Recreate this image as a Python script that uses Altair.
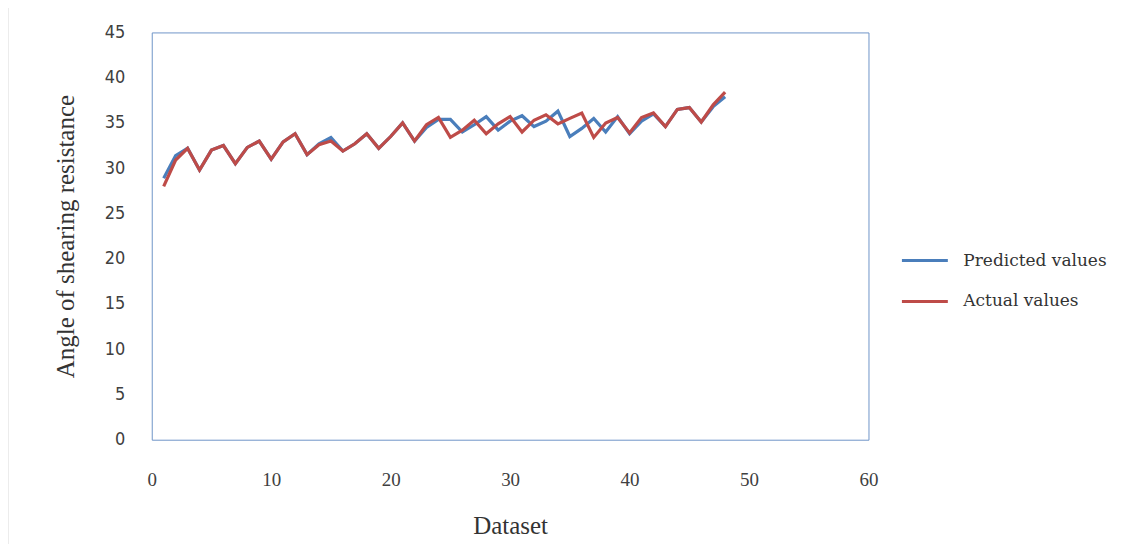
import altair as alt
import pandas as pd

dataset = list(range(1, 49))
predicted = [28.9, 31.4, 32.2, 29.8, 32.0, 32.5, 30.5, 32.3, 33.0, 31.0,
             32.9, 33.8, 31.5, 32.7, 33.4, 31.9, 32.7, 33.8, 32.2, 33.5,
             35.0, 33.0, 34.5, 35.4, 35.4, 34.0, 34.8, 35.7, 34.2, 35.2,
             35.8, 34.6, 35.2, 36.3, 33.5, 34.4, 35.5, 34.0, 35.7, 33.8,
             35.2, 36.0, 34.6, 36.5, 36.7, 35.1, 36.8, 37.9]
actual = [28.0, 30.9, 32.2, 29.8, 32.0, 32.5, 30.5, 32.3, 33.0, 31.0,
          32.9, 33.8, 31.5, 32.6, 33.0, 31.9, 32.7, 33.8, 32.2, 33.5,
          35.0, 33.0, 34.8, 35.6, 33.4, 34.2, 35.3, 33.8, 34.9, 35.7,
          34.0, 35.3, 35.9, 34.9, 35.5, 36.1, 33.4, 35.0, 35.6, 33.9,
          35.6, 36.1, 34.6, 36.5, 36.7, 35.1, 37.0, 38.4]
series_names = ["Predicted values", "Actual values"]
series_colors = ["#4A7EBB", "#BE4B48"]

rows = []
for name, vals in zip(series_names, [predicted, actual]):
    for i, (d, v) in enumerate(zip(dataset, vals)):
        rows.append({"Dataset": d, "Value": v, "Series": name, "order": i})
df = pd.DataFrame(rows)

lines = alt.Chart(df).mark_line(strokeWidth=3.2).encode(
    x=alt.X("Dataset:Q",
            scale=alt.Scale(domain=[0, 60], nice=False),
            axis=alt.Axis(values=[0, 10, 20, 30, 40, 50, 60], title="Dataset",
                          grid=False, ticks=False, domain=False,
                          labelFlush=False,
                          labelFont="Liberation Serif", labelFontSize=19,
                          labelColor="#404040", labelPadding=31,
                          titleFont="Liberation Serif", titleFontSize=25,
                          titleFontWeight="normal", titleColor="#333",
                          titlePadding=24)),
    y=alt.Y("Value:Q",
            scale=alt.Scale(domain=[0, 45], nice=False),
            axis=alt.Axis(values=[0, 5, 10, 15, 20, 25, 30, 35, 40, 45],
                          title="Angle of shearing resistance",
                          grid=False, ticks=False, domain=False,
                          labelFlush=False,
                          labelFont="DejaVu Sans Condensed, Liberation Sans Narrow, Open Sans",
                          labelFontSize=18,
                          labelColor="#404040", labelPadding=27,
                          titleFont="Liberation Serif", titleFontSize=25,
                          titleFontWeight="normal", titleColor="#333",
                          titlePadding=26)),
    color=alt.Color("Series:N",
                    scale=alt.Scale(domain=series_names, range=series_colors),
                    legend=alt.Legend(title=None, orient="none",
                                      legendX=750, legendY=204,
                                      symbolType="stroke", symbolSize=2116,
                                      symbolStrokeWidth=3,
                                      labelFont="DejaVu Serif",
                                      labelFontSize=17, labelColor="#333",
                                      rowPadding=8, labelOffset=14)),
    order=alt.Order("order:Q"),
)

frame = alt.Chart(pd.DataFrame({"a": [0]})).mark_rect(
    fill=None, stroke="#D9D9D9", strokeWidth=1
).encode(x=alt.value(-144), x2=alt.value(1000), y=alt.value(-27),
         y2=alt.value(530))

chart = alt.layer(frame, lines).properties(
    width=718, height=408,
    background="white",
    autosize=alt.AutoSizeParams(type="none"),
    padding={"left": 144, "top": 24, "right": 272, "bottom": 104},
).configure_view(stroke="#6F95C8", strokeWidth=1)

chart.save("out.html", embed_options={"renderer": "svg", "actions": False})
